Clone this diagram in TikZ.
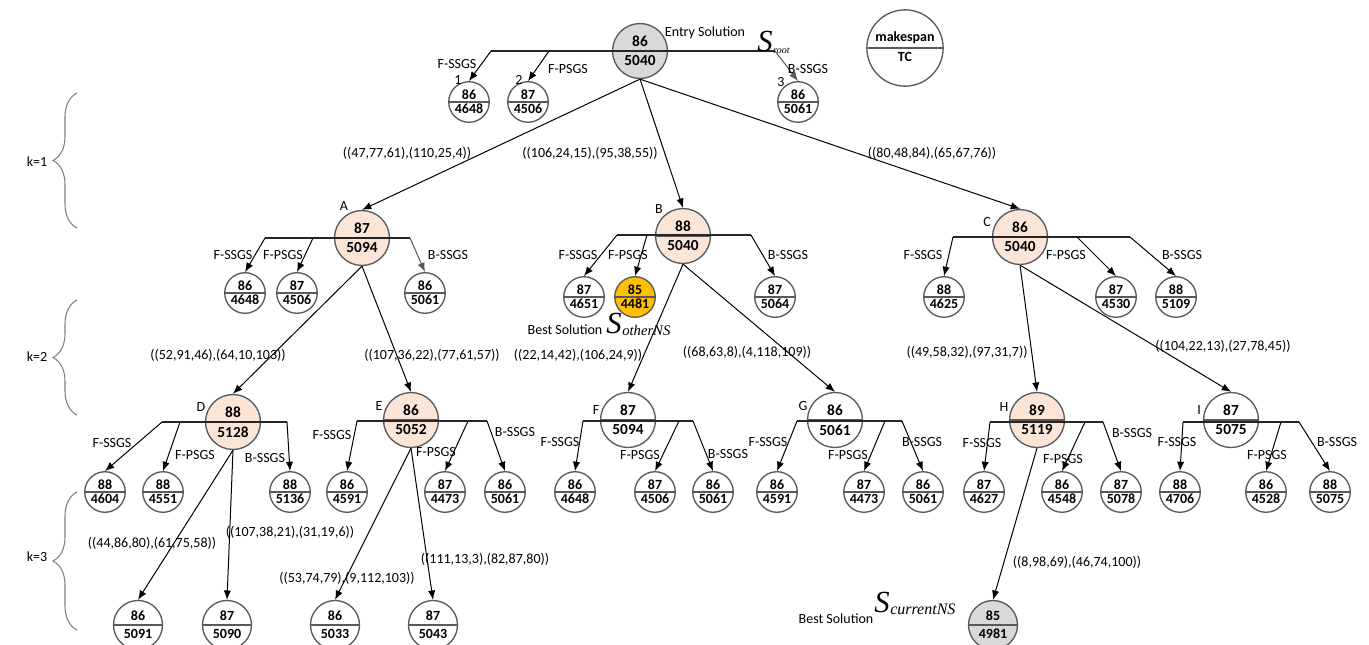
\documentclass[tikz,border=0pt]{standalone}
\usepackage{fontspec}
\setmainfont{Carlito}
\newfontfamily\timesfont{Liberation Serif}
\usetikzlibrary{shapes.multipart,arrows.meta,decorations.pathreplacing}
\definecolor{peach}{HTML}{FBE5D6}
\definecolor{gold}{HTML}{FFC000}
\definecolor{lgray}{HTML}{D9D9D9}
\definecolor{rim}{HTML}{595959}
\tikzset{
  sol/.style={circle split, draw=rim, line width=1pt, inner sep=1pt, minimum size=25pt,
    font=\fontsize{10.5}{11}\selectfont\bfseries},
  bigsol/.style={sol, inner sep=3pt, minimum size=35pt, font=\fontsize{11.5}{12}\selectfont\bfseries},
  endsol/.style={sol, inner sep=2.5pt, minimum size=32pt},
  arr/.style={-{Latex[length=7pt,width=5.5pt]}, line width=0.75pt},
  garr/.style={arr, draw=rim, fill=rim},
  bar/.style={line width=0.8pt, draw=black!85},
  lbl/.style={font=\fontsize{10.5}{12}\selectfont, inner sep=0pt},
  kbrace/.style={draw=black!50, line width=0.8pt, decorate, decoration={brace, amplitude=18pt}},
}
\newcommand{\Sname}[2][10]{{\timesfont\itshape\fontsize{23}{23}\selectfont S\kern0.5pt\raisebox{-2pt}{\fontsize{#1}{#1}\selectfont #2}}}
\begin{document}
\begin{tikzpicture}[x=0.75pt,y=-0.75pt]
\useasboundingbox (0,0) rectangle (1369,644);

% levels
\draw[kbrace] (77,228) -- (77,93);
\draw[kbrace] (77,415) -- (77,300);
\draw[kbrace] (77,630) -- (77,492);
\node[lbl] (k1) at (37,162) {k=1};
\node[lbl] (k2) at (37,357) {k=2};
\node[lbl] (k3) at (37,557) {k=3};

% solutions
\node[bigsol, fill=lgray] (root) at (640,51) {86\nodepart{lower}5040};
\node[sol, minimum size=48pt, inner sep=2.5pt] (legend) at (905,48) {makespan\nodepart{lower}TC};
\foreach \n/\x/\y/\m/\t/\c in {A/362/238/87/5094/peach, B/683/236/88/5040/peach, C/1020/237/86/5040/peach,
    D/233/422/88/5128/peach, E/411/420/86/5052/peach, F/628/420/87/5094/white,
    G/835/420/86/5061/white, H/1037/420/89/5119/peach, I/1231/420/87/5075/white}
  \node[bigsol, fill=\c] (\n) at (\x,\y) {\m\nodepart{lower}\t};
\foreach \n/\x/\y/\m/\t in {r1/469/102/86/4648, r2/528/102/87/4506, r3/798/102/86/5061,
    a1/245/293/86/4648, a2/297/293/87/4506, a3/425/293/86/5061,
    b1/584/297/87/4651, b3/775/297/87/5064,
    c1/944/297/88/4625, c2/1116/297/87/4530, c3/1176/297/88/5109,
    d1/105/492/88/4604, d2/163/492/88/4551, d3/290/492/88/5136,
    e1/347/492/86/4591, e2/445/492/87/4473, e3/505/492/86/5061,
    f1/575/492/86/4648, f2/655/492/87/4506, f3/713/492/86/5061,
    g1/777/492/86/4591, g2/864/492/87/4473, g3/923/492/86/5061,
    h1/984/492/87/4627, h2/1062/492/86/4548, h3/1121/492/87/5078,
    i1/1180/492/88/4706, i2/1266/492/86/4528, i3/1330/492/88/5075}
  \node[sol] (\n) at (\x,\y) {\m\nodepart{lower}\t};
\node[sol, fill=gold] (b2) at (635,297) {85\nodepart{lower}4481};
\foreach \n/\x/\m/\t in {dk1/138/86/5091, dk2/227/87/5090, ek1/335/86/5033, ek2/433/87/5043}
  \node[endsol] (\n) at (\x,625) {\m\nodepart{lower}\t};
\node[endsol, fill=lgray] (best) at (993,625) {85\nodepart{lower}4981};

% node letters
\foreach \n/\x/\y in {A/344/206, B/659/209, C/987/222, D/201/407, E/379/406,
    F/596/410, G/803/406, H/1004/407, I/1199/410}
  \node[lbl] (tag\n) at (\x,\y) {\n};

% branch points
\foreach \n/\x/\y in {rL/491/51, rM/549/51, rR/775/51,
    aL/265/238, aM/313/238, aR/410/238, bL/617/235, bM/647/235, bR/751/235,
    cL/953/237, cM/1077/237, cR/1130/237, dL/162/422, dM/180/422, dR/287/422,
    eL/357/421, eM/468/421, eR/487/421, fL/583/421, fM/679/421, fR/693/421,
    gL/797/421, gM/885/421, gR/902/421, hL/990/422, hM/1085/422, hR/1103/422,
    iL/1183/422, iM/1281/422, iR/1299/422}
  \coordinate (\n) at (\x,\y);
\foreach \p in {r,a,b,c,d,e,f,g,h,i}
  \draw[bar] (\p L) -- (\p R);

% heuristic arrows
\draw[arr] (rL) -- (r1.north);
\draw[arr] (rM) -- (r2.north);
\draw[garr] (rR) -- (r3.north);
\draw[arr] (aL) -- (a1.north);
\draw[arr] (aM) -- (a2.north);
\draw[garr] (aR) -- (a3.north);
\foreach \p in {b,c,d,e,f,g,h,i}{
  \draw[arr] (\p L) -- (\p 1.north);
  \draw[arr] (\p M) -- (\p 2.north);
  \draw[arr] (\p R) -- (\p 3.north);
}
\foreach \n/\x/\y/\t in {rFS/457/64/F-SSGS, rFP/568/69/F-PSGS, rBS/808/69/B-SSGS,
    aFS/233/255/F-SSGS, aFP/283/255/F-PSGS, aBS/448/255/B-SSGS,
    bFS/578/255/F-SSGS, bFP/628/255/F-PSGS, bBS/788/255/B-SSGS,
    cFS/923/255/F-SSGS, cFP/1066/255/F-PSGS, cBS/1182/255/B-SSGS,
    dFS/112/443/F-SSGS, dFP/195/455/F-PSGS, dBS/265/458/B-SSGS,
    eFS/332/435/F-SSGS, eFP/436/452/F-PSGS, eBS/515/432/B-SSGS,
    fFS/560/442/F-SSGS, fFP/640/455/F-PSGS, fBS/728/454/B-SSGS,
    gFS/768/442/F-SSGS, gFP/848/455/F-PSGS, gBS/922/442/B-SSGS,
    hFS/982/443/F-SSGS, hFP/1063/459/F-PSGS, hBS/1132/433/B-SSGS,
    iFS/1177/442/F-SSGS, iFP/1267/455/F-PSGS, iBS/1337/442/B-SSGS,
    n1/458/80/1, n2/519/80/2, n3/781/82/3}
  \node[lbl] (\n) at (\x,\y) {\t};

% neighbourhood moves
\draw[arr] (root.south) -- (A.north);
\draw[arr] (root.south) -- (B.north);
\draw[arr] (root.south) -- (C.north);
\draw[arr] (A.south) -- (D.north);
\draw[arr] (A.south) -- (E.north);
\draw[arr] (B.south) -- (F.north);
\draw[arr] (B.south) -- (G.north);
\draw[arr] (C.south) -- (H.north);
\draw[arr] (C.south) -- (I.north);
\draw[arr] (D.south) -- (dk1.north);
\draw[arr] (D.south) -- (dk2.north);
\draw[arr] (E.south) -- (ek1.north);
\draw[arr] (E.south) -- (ek2.north);
\draw[arr] (H.south) -- (best.north);

\node[lbl] (mA) at (407,153) {((47,77,61),(110,25,4))};
\node[lbl] (mB) at (590,153) {((106,24,15),(95,38,55))};
\node[lbl] (mC) at (932,153) {((80,48,84),(65,67,76))};
\node[lbl] (mD) at (218,355) {((52,91,46),(64,10,103))};
\node[lbl] (mE) at (432,355) {((107,36,22),(77,61,57))};
\node[lbl] (mF) at (578,355) {((22,14,42),(106,24,9))};
\node[lbl] (mG) at (747,352) {((68,63,8),(4,118,109))};
\node[lbl] (mH) at (967,352) {((49,58,32),(97,31,7))};
\node[lbl] (mI) at (1223,346) {((104,22,13),(27,78,45))};
\node[lbl] (mdk1) at (152,543) {((44,86,80),(61,75,58))};
\node[lbl] (mdk2) at (290,532) {((107,38,21),(31,19,6))};
\node[lbl] (mek1) at (347,578) {((53,74,79),(9,112,103))};
\node[lbl] (mek2) at (485,559) {((111,13,3),(82,87,80))};
\node[lbl] (mbest) at (1077,562) {((8,98,69),(46,74,100))};

% solution labels
\node[lbl] (entry) at (705,33) {Entry Solution};
\node[anchor=base west, inner sep=0pt] (sroot) at (757,51) {\Sname[7.5]{root}};
\node[lbl] (bestB) at (565,330) {Best Solution};
\node[anchor=base west, inner sep=0pt] (sother) at (606,333) {\Sname[11]{otherNS}};
\node[lbl] (bestC) at (836,619) {Best Solution};
\node[anchor=base west, inner sep=0pt] (scurrent) at (874,612) {\Sname[12]{currentNS}};
\end{tikzpicture}
\end{document}
